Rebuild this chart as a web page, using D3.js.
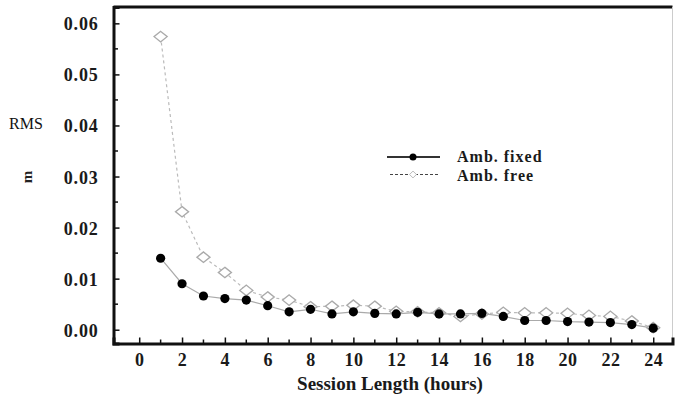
<!DOCTYPE html>
<html>
<head>
<meta charset="utf-8">
<script src="https://cdn.jsdelivr.net/npm/d3@7"></script>
<style>
  body { margin: 0; background: #fff; }
  svg { display: block; }
  svg text { font-family: "Liberation Serif", "Times New Roman", "DejaVu Serif", serif; }
</style>
</head>
<body>
<svg width="675" height="397"></svg>
<script>
// data
const hours = [1, 2, 3, 4, 5, 6, 7, 8, 9, 10, 11, 12, 13, 14, 15, 16, 17, 18, 19, 20, 21, 22, 23, 24];
const ambFixed = [0.0140, 0.0090, 0.0066, 0.0061, 0.0058, 0.0047, 0.0035, 0.0040, 0.0031, 0.0035, 0.0032, 0.0031,
  0.0034, 0.0031, 0.0031, 0.0032, 0.0026, 0.0018, 0.0018, 0.0016, 0.0015, 0.0014, 0.0010, 0.0003];
const ambFree = [0.0574, 0.0231, 0.0142, 0.0112, 0.0077, 0.0064, 0.0058, 0.0045, 0.0046, 0.0048, 0.0046, 0.0036,
  0.0035, 0.0033, 0.0026, 0.0031, 0.0034, 0.0033, 0.0033, 0.0032, 0.0028, 0.0026, 0.0017, 0.0004];
const yTicks = [0, 0.01, 0.02, 0.03, 0.04, 0.05, 0.06];
const xTicks = [0, 2, 4, 6, 8, 10, 12, 14, 16, 18, 20, 22, 24];

const svg = d3.select("svg");

let x = d3.scaleLinear().domain([-1.2, 24.9]).range([113.5, 672.5]);
let y = d3.scaleLinear().domain([-0.0027, 0.0632]).range([343.5, 7]);

// frame: top heavy, right thin
svg.append("line")
  .attr("x1", x.range()[0]).attr("x2", x.range()[1])
  .attr("y1", 7).attr("y2", 7)
  .attr("stroke", "#111").attr("stroke-width", 3);
svg.append("line")
  .attr("x1", 672.5).attr("x2", 672.5)
  .attr("y1", 7).attr("y2", 343.5)
  .attr("stroke", "#ccc").attr("stroke-width", 1);

// minor ticks
let minorY = d3.range(0.005, 0.061, 0.01);
let minorX = d3.range(1, 25, 2);
svg.append("g").selectAll("line").data(minorY).enter().append("line")
  .attr("x1", 113.5).attr("x2", 118)
  .attr("y1", (d) => y(d)).attr("y2", (d) => y(d))
  .attr("stroke", "#111").attr("stroke-width", 1.5);
svg.append("g").selectAll("line").data(minorX).enter().append("line")
  .attr("x1", (d) => x(d)).attr("x2", (d) => x(d))
  .attr("y1", 343.5).attr("y2", 339.5)
  .attr("stroke", "#111").attr("stroke-width", 1.5);

// axes
let yAxis = svg.append("g")
  .attr("transform", "translate(113.5,0)")
  .call(d3.axisLeft(y).tickValues(yTicks).tickFormat(d3.format(".2f")).tickSize(-6).tickPadding(15));
let xAxis = svg.append("g")
  .attr("transform", "translate(0,343.5)")
  .call(d3.axisBottom(x).tickValues(xTicks).tickFormat(d3.format("d")).tickSize(-6).tickPadding(9));

[yAxis, xAxis].forEach((g) => {
  g.attr("font-family", null);
  g.select(".domain").attr("stroke", "#111").attr("stroke-width", 3);
  g.selectAll(".tick line").attr("stroke", "#111").attr("stroke-width", 1.5);
  g.selectAll(".tick text")
    .attr("fill", "#1a1a1a")
    .style("font-weight", "bold")
    .style("font-size", "18px");
});
yAxis.selectAll(".tick text").attr("dy", "0.36em").style("letter-spacing", "0.8px");
xAxis.selectAll(".tick text").attr("dy", "0.75em").style("letter-spacing", "0.5px");

// axis titles
svg.append("text")
  .attr("x", 390).attr("y", 390)
  .attr("text-anchor", "middle")
  .style("font-weight", "bold").style("font-size", "19px")
  .attr("fill", "#1a1a1a")
  .text("Session Length (hours)");
svg.append("text")
  .attr("x", 9).attr("y", 129)
  .style("font-size", "16px")
  .attr("fill", "#111")
  .text("RMS");
svg.append("text")
  .attr("transform", "translate(32,177) rotate(-90)")
  .attr("text-anchor", "middle")
  .style("font-size", "15px").style("font-weight", "bold")
  .attr("fill", "#222")
  .text("m");

// series lines
let lineGen = d3.line().x((d) => x(d[0])).y((d) => y(d[1]));
let freePts = hours.map((h, i) => [h, ambFree[i]]);
let fixedPts = hours.map((h, i) => [h, ambFixed[i]]);

svg.append("path")
  .attr("d", lineGen(freePts))
  .attr("fill", "none")
  .attr("stroke", "#bbb").attr("stroke-width", 1.2)
  .attr("stroke-dasharray", "3,3");
svg.append("path")
  .attr("d", lineGen(fixedPts))
  .attr("fill", "none")
  .attr("stroke", "#aaa").attr("stroke-width", 1.2);

// markers
let diamond = d3.symbol().type(d3.symbolDiamond2).size(70);
svg.append("g").selectAll("path").data(freePts).enter().append("path")
  .attr("d", diamond)
  .attr("transform", (d) => "translate(" + x(d[0]) + "," + y(d[1]) + ") scale(1.25,1)")
  .attr("fill", "#fff").attr("stroke", "#aaa").attr("stroke-width", 1.2);
svg.append("g").selectAll("circle").data(fixedPts).enter().append("circle")
  .attr("cx", (d) => x(d[0])).attr("cy", (d) => y(d[1]))
  .attr("r", 4.6).attr("fill", "#000");

// legend
let lg = svg.append("g");
lg.append("line").attr("x1", 387).attr("x2", 440).attr("y1", 157).attr("y2", 157)
  .attr("stroke", "#333").attr("stroke-width", 2);
lg.append("circle").attr("cx", 413).attr("cy", 157).attr("r", 3.5).attr("fill", "#000");
lg.append("line").attr("x1", 390).attr("x2", 440).attr("y1", 174.5).attr("y2", 174.5)
  .attr("stroke", "#444").attr("stroke-width", 1).attr("stroke-dasharray", "3,2");
lg.append("path").attr("d", d3.symbol().type(d3.symbolDiamond2).size(30))
  .attr("transform", "translate(413,174.5)")
  .attr("fill", "#fff").attr("stroke", "#bbb");
lg.append("text").attr("x", 457).attr("y", 162)
  .style("font-weight", "bold").style("font-size", "16px").style("letter-spacing", "1px")
  .attr("fill", "#1a1a1a")
  .text("Amb. fixed");
lg.append("text").attr("x", 457).attr("y", 181)
  .style("font-weight", "bold").style("font-size", "16px").style("letter-spacing", "1px")
  .attr("fill", "#1a1a1a")
  .text("Amb. free");
</script>
</body>
</html>
